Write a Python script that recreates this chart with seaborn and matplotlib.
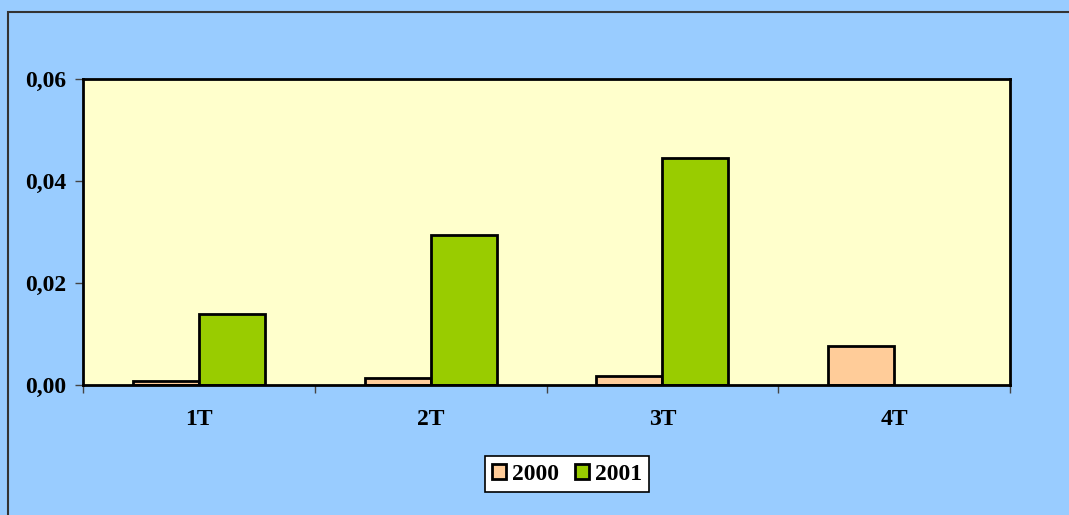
import matplotlib
matplotlib.use('Agg')
import matplotlib.pyplot as plt
from matplotlib.patches import Rectangle
from matplotlib.ticker import FixedLocator, FuncFormatter
import pandas as pd
import seaborn as sns
import numpy as np

quarters = ['1T', '2T', '3T', '4T']
values_2000 = [0.0008, 0.0014, 0.0017, 0.0076]
values_2001 = [0.0139, 0.0295, 0.0446, np.nan]
years = ['2000', '2001']
colors = ['#FFCC99', '#99CC00']

df = pd.DataFrame({
    'quarter': quarters * 2,
    'value': values_2000 + values_2001,
    'year': [years[0]] * 4 + [years[1]] * 4,
})

sns.set_style('white')
plt.rcParams['font.family'] = ['Liberation Serif', 'DejaVu Serif']
plt.rcParams['font.weight'] = 'bold'
plt.rcParams['text.color'] = 'black'
plt.rcParams['xtick.labelcolor'] = 'black'
plt.rcParams['ytick.labelcolor'] = 'black'

fig = plt.figure(figsize=(10.69, 5.15), dpi=100, facecolor='#99CCFF')
ax = fig.add_axes([83 / 1069, 1 - 385 / 515, 927 / 1069, 306 / 515])
ax.set_facecolor('#FFFFCC')

sns.barplot(data=df, x='quarter', y='value', hue='year', palette=colors,
            width=0.57, edgecolor='black', linewidth=2, ax=ax,
            saturation=1, errorbar=None)

ax.set_xlim(-0.5, 3.5)
ax.set_ylim(0, 0.06)
ax.set_yticks([0, 0.02, 0.04, 0.06])
ax.yaxis.set_major_formatter(FuncFormatter(lambda v, p: f'{v:.2f}'.replace('.', ',')))
ax.tick_params(axis='y', direction='out', length=6, width=1, color='#444444',
               labelsize=17, pad=6, left=True)
ax.tick_params(axis='x', which='major', length=0, labelsize=17, pad=17)
ax.xaxis.set_minor_locator(FixedLocator([-0.5, 0.5, 1.5, 2.5, 3.5]))
ax.tick_params(axis='x', which='minor', direction='out', length=6, width=1,
               color='#444444', bottom=True)
for lab in ax.get_xticklabels() + ax.get_yticklabels():
    lab.set_fontweight('bold')
ax.set_xlabel('')
ax.set_ylabel('')
for s in ax.spines.values():
    s.set_visible(True)
    s.set_color('black')
    s.set_linewidth(2)

handles, labels = ax.get_legend_handles_labels()
ax.get_legend().remove()
leg = fig.legend(handles, labels, loc='center', bbox_to_anchor=(567 / 1069, 1 - 474 / 515),
                 ncol=2, frameon=True, fancybox=False, edgecolor='black', framealpha=1,
                 prop={'size': 17, 'weight': 'bold'}, handlelength=0.6, handleheight=0.6,
                 handletextpad=0.25, columnspacing=0.7, borderpad=0.3)
leg.get_frame().set_linewidth(1.2)
for h in leg.legend_handles:
    h.set_linewidth(2)

fig.patches.append(Rectangle((8 / 1069, -0.1), 1.2, 1 - 12 / 515 + 0.1, transform=fig.transFigure,
                             fill=False, edgecolor='#333333', linewidth=1.5))

fig.savefig('out.png', dpi=100, facecolor=fig.get_facecolor())
